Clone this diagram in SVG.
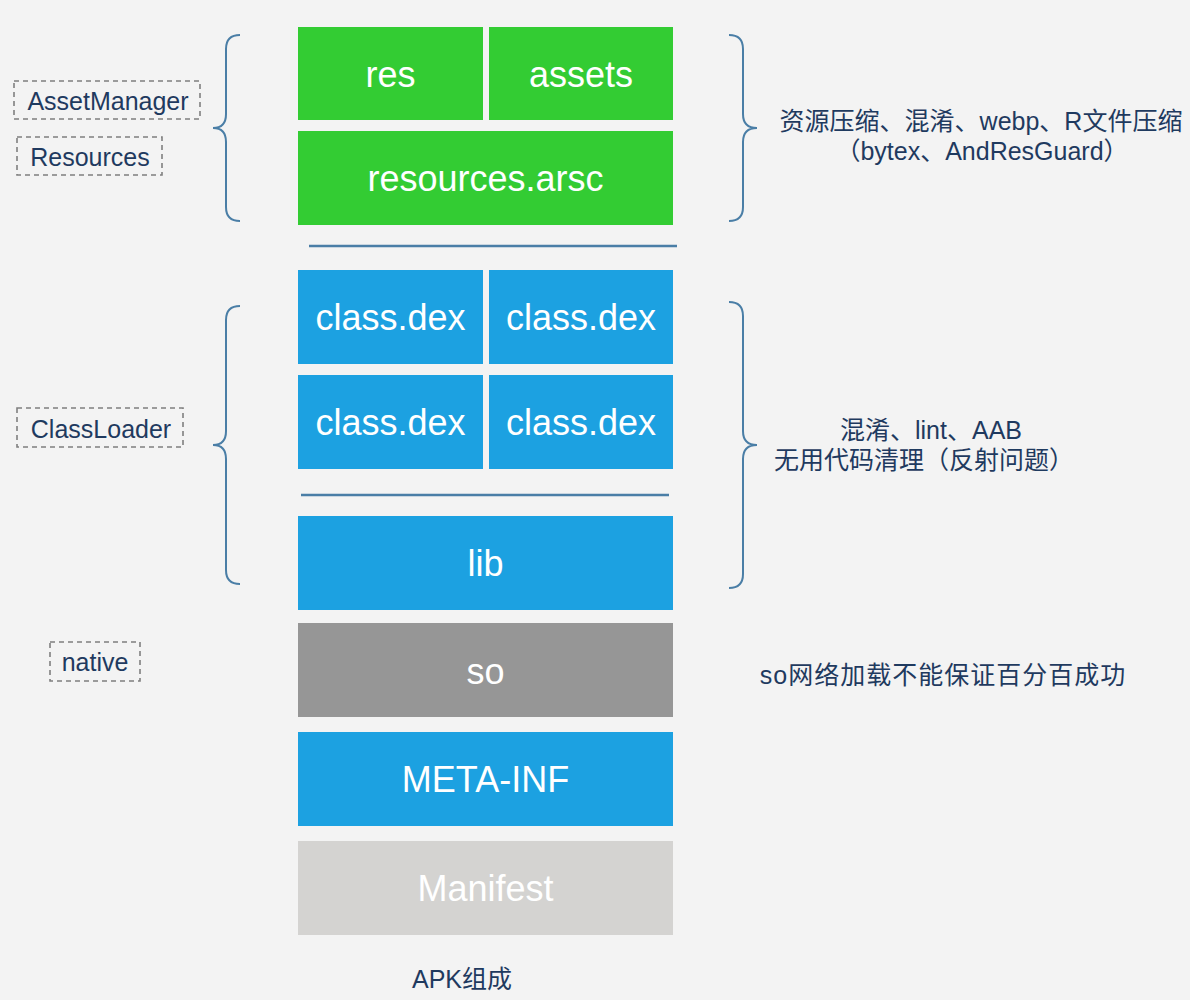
<svg xmlns="http://www.w3.org/2000/svg" width="1190" height="1000" viewBox="0 0 1190 1000">
<style>
.box text{font-family:"Liberation Sans",Arial,sans-serif;font-size:36px;fill:#ffffff;text-anchor:middle}
.green{fill:#33cc33}
.blue{fill:#1ca1e1}
.gray{fill:#969696}
.light{fill:#d4d3d1}
.lbl rect{fill:none;stroke:#7f7f7f;stroke-width:1.6;stroke-dasharray:5 4}
.lbl text{font-family:"Liberation Sans",Arial,sans-serif;font-size:25px;fill:#1f3a5f;text-anchor:middle}
.note{font-family:"Liberation Sans","Noto Sans CJK SC",sans-serif;font-size:25px;fill:#1f3a5f;text-anchor:middle}
.brace{fill:none;stroke:#4a7ea6;stroke-width:2}
.sep{stroke:#4a7ea6;stroke-width:2.5}
</style>
<rect width="1190" height="1000" fill="#f3f3f3"/>

<g id="res" class="box"><rect class="green" x="298" y="27" width="185" height="93"/><text x="390.5" y="87">res</text></g>
<g id="assets" class="box"><rect class="green" x="489" y="27" width="184" height="93"/><text x="581" y="87">assets</text></g>
<g id="resources-arsc" class="box"><rect class="green" x="298" y="131" width="375" height="94"/><text x="485.5" y="191">resources.arsc</text></g>

<g id="dex1" class="box"><rect class="blue" x="298" y="270" width="185" height="94"/><text x="390.5" y="330">class.dex</text></g>
<g id="dex2" class="box"><rect class="blue" x="489" y="270" width="184" height="94"/><text x="581" y="330">class.dex</text></g>
<g id="dex3" class="box"><rect class="blue" x="298" y="375" width="185" height="94"/><text x="390.5" y="435">class.dex</text></g>
<g id="dex4" class="box"><rect class="blue" x="489" y="375" width="184" height="94"/><text x="581" y="435">class.dex</text></g>

<g id="lib" class="box"><rect class="blue" x="298" y="516" width="375" height="94"/><text x="485.5" y="576">lib</text></g>
<g id="so" class="box"><rect class="gray" x="298" y="623" width="375" height="94"/><text x="485.5" y="684">so</text></g>
<g id="meta-inf" class="box"><rect class="blue" x="298" y="732" width="375" height="94"/><text x="485.5" y="792">META-INF</text></g>
<g id="manifest" class="box"><rect class="light" x="298" y="841" width="375" height="94"/><text x="485.5" y="901">Manifest</text></g>

<g id="lbl-assetmanager" class="lbl"><rect x="14" y="81" width="186" height="38"/><text x="108" y="110">AssetManager</text></g>
<g id="lbl-resources" class="lbl"><rect x="17" y="137" width="145" height="38"/><text x="90" y="166">Resources</text></g>
<g id="lbl-classloader" class="lbl"><rect x="17" y="408" width="166" height="39"/><text x="101" y="438">ClassLoader</text></g>
<g id="lbl-native" class="lbl"><rect x="50" y="642" width="90" height="39"/><text x="95" y="671">native</text></g>

<g id="notes">
<text class="note" x="981" y="130">资源压缩、混淆、webp、R文件压缩</text>
<text class="note" x="982" y="160">（bytex、AndResGuard）</text>
<text class="note" x="931" y="439">混淆、lint、AAB</text>
<text class="note" x="924" y="469">无用代码清理（反射问题）</text>
<text class="note" x="943" y="684" letter-spacing="1">so网络加载不能保证百分百成功</text>
<text class="note" x="462" y="988">APK组成</text>
</g>

<g id="connectors">
<line class="sep" x1="309" y1="246" x2="677" y2="246"/>
<line class="sep" x1="301" y1="495" x2="669" y2="495"/>
<path class="brace" d="M240,35 Q226,35 226,49 L226,114 Q226,128 213,128 Q226,128 226,142 L226,207 Q226,221 240,221"/>
<path class="brace" d="M240,306 Q226,306 226,320 L226,431 Q226,445 213,445 Q226,445 226,459 L226,570 Q226,584 240,584"/>
<path class="brace" d="M729,35 Q743,35 743,49 L743,114 Q743,128 757,128 Q743,128 743,142 L743,207 Q743,221 729,221"/>
<path class="brace" d="M729,302 Q743,302 743,316 L743,431 Q743,445 757,445 Q743,445 743,459 L743,574 Q743,588 729,588"/>
</g>
</svg>
